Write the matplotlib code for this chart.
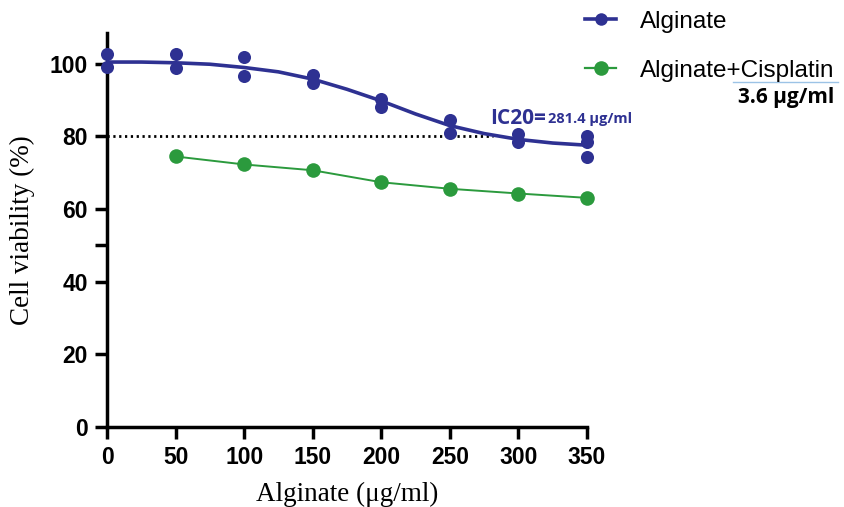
import matplotlib
matplotlib.use("Agg")
import matplotlib.pyplot as plt
from matplotlib.lines import Line2D

# ---- data ----
doses = [0, 50, 100, 150, 200, 250, 300, 350]
alg_reps = [
    [102.6, 99.2],
    [102.8, 98.8],
    [101.8, 96.6],
    [96.8, 94.7],
    [90.3, 88.2],
    [84.5, 81.0],
    [80.6, 78.6],
    [80.0, 78.4, 74.3],
]
fit_x = [0, 25, 50, 75, 100, 125, 150, 175, 200, 225, 250, 275, 300, 325, 350]
fit_y = [100.5, 100.5, 100.3, 99.9, 99.0, 97.8, 95.8, 93.0, 89.8, 86.2, 83.0, 80.8, 79.2, 78.2, 77.6]
cis_x = [50, 100, 150, 200, 250, 300, 350]
cis_y = [74.5, 72.3, 70.7, 67.4, 65.6, 64.3, 63.1]
ic20_x = 281.4
ic20_y = 80
xticks = [0, 50, 100, 150, 200, 250, 300, 350]
yticks = [0, 20, 40, 60, 80, 100]

BLUE = "#2e3192"
GREEN = "#2b9a3d"
TICKFONT = ["Liberation Sans Narrow", "Liberation Sans", "DejaVu Sans"]

fig = plt.figure(figsize=(8.44, 5.07), dpi=100)
ax = fig.add_axes([107/844, 80/507, 480/844, 394/507])

# fitted curve
ax.plot(fit_x, fit_y, color=BLUE, lw=2.6, solid_capstyle="round", zorder=3)
# replicates
for x, reps in zip(doses, alg_reps):
    ax.plot([x]*len(reps), reps, "o", color=BLUE, ms=9.4, mec="none", zorder=4, clip_on=False)
# cisplatin combo
ax.plot(cis_x, cis_y, "-o", color=GREEN, lw=1.4, ms=10.5, mec="none", zorder=4, clip_on=False)
# IC20 dotted line
ax.plot([0, ic20_x], [ic20_y, ic20_y], color="black", lw=2.0, ls=(0, (0.8, 1.3)), zorder=2)

fig.text(490/844, 1 - 119/507, "IC20=", fontsize=15, fontweight="bold", color=BLUE,
         family=["Open Sans", "DejaVu Sans"], va="center", ha="left")
fig.text(548/844, 1 - 119/507, "281.4 μg/ml", fontsize=10.5, fontweight="bold", color=BLUE,
         family=["Open Sans", "DejaVu Sans"], va="center", ha="left")

ax.set_xlim(0, 350)
ax.set_ylim(0, 108.5)
ax.set_xticks(xticks)
ax.set_yticks(yticks)
ax.set_yticks([50], minor=True)
for s in ["top", "right"]:
    ax.spines[s].set_visible(False)
for s in ["left", "bottom"]:
    ax.spines[s].set_linewidth(2.5)
ax.tick_params(axis="both", which="major", length=8.6, width=2.5, direction="out", pad=5)
ax.tick_params(axis="y", which="minor", length=8.6, width=2.5, direction="out")
for lab in ax.get_xticklabels() + ax.get_yticklabels():
    lab.set_fontfamily(TICKFONT)
    lab.set_fontweight("bold")
    lab.set_fontsize(16.5)

ax.set_xlabel("Alginate (μg/ml)", fontsize=19.5, family=["Liberation Serif", "DejaVu Serif"], labelpad=9)
ax.set_ylabel("Cell viability (%)", fontsize=19.5, family=["Liberation Serif", "DejaVu Serif"], labelpad=11)

# legend
h1 = Line2D([], [], color=BLUE, lw=2.6, marker="o", ms=9, mec="none")
h2 = Line2D([], [], color=GREEN, lw=1.6, marker="o", ms=10.5, mec="none")
leg = fig.legend([h1, h2], ["Alginate", "Alginate+Cisplatin"], loc="upper left",
                 bbox_to_anchor=(580/844, 1 - 6/507), frameon=False,
                 prop={"family": ["Liberation Sans", "DejaVu Sans"], "size": 17.5},
                 handlelength=1.3, handletextpad=0.95, labelspacing=1.11,
                 borderpad=0.2, borderaxespad=0)

fig.add_artist(Line2D([733/844, 838/844], [1 - 82/507, 1 - 82/507], color="#9cc3e6", lw=1.0))
fig.text(786/844, 1 - 98/507, "3.6 μg/ml", fontsize=15, fontweight="bold", color="black",
         family=["Open Sans", "DejaVu Sans"], va="center", ha="center")

fig.savefig("out.png", dpi=100)
